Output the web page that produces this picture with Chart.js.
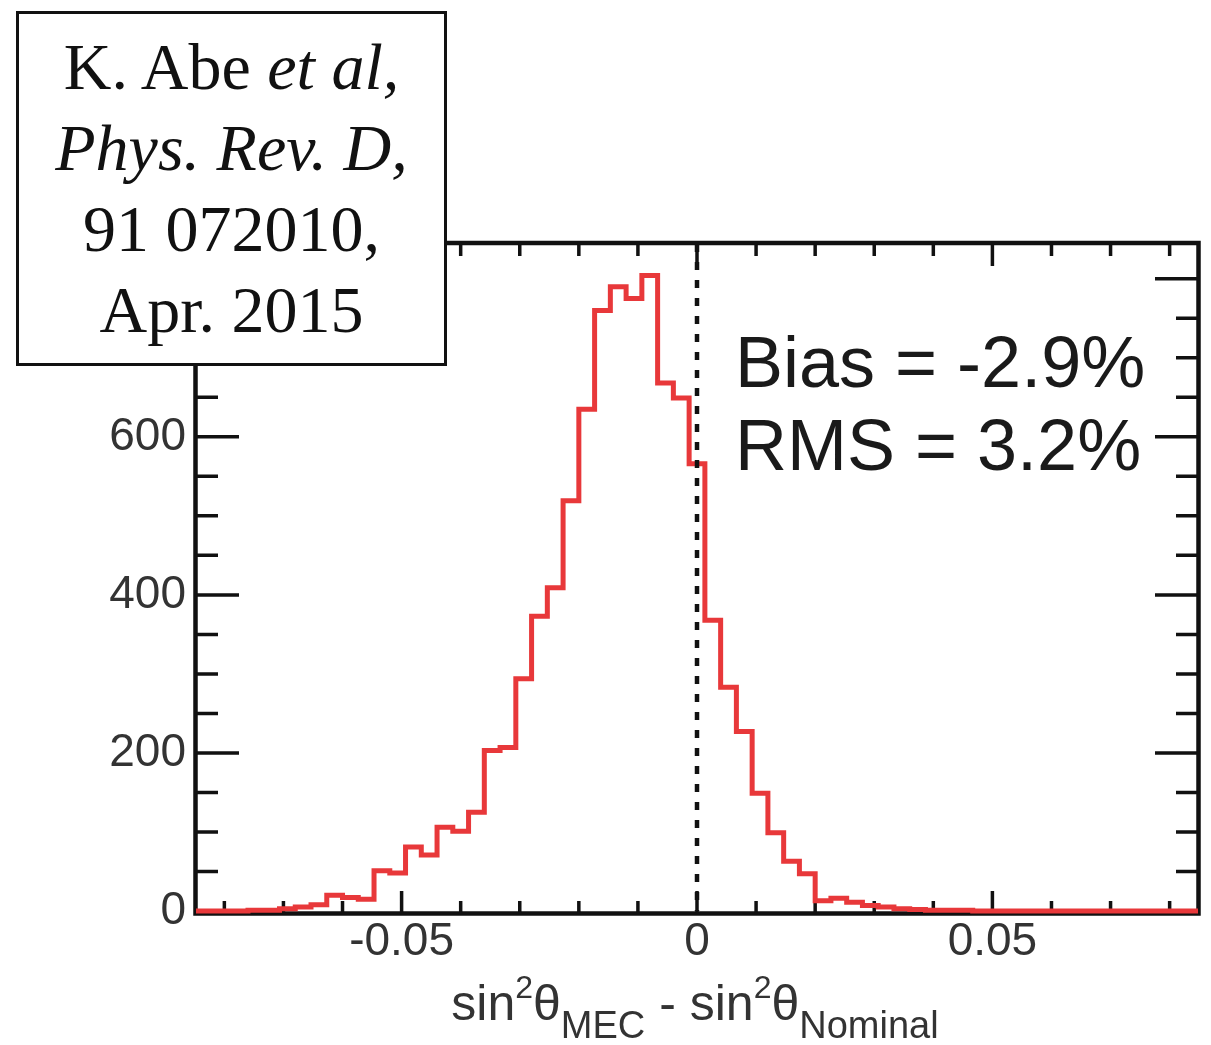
<!DOCTYPE html>
<html>
<head>
<meta charset="utf-8">
<script src="https://cdn.jsdelivr.net/npm/chart.js@4.4.1/dist/chart.umd.min.js"></script>
<style>
  html, body { margin: 0; padding: 0; background: #fff; }
  #wrap { position: relative; width: 1211px; height: 1045px; }
  #plot { position: absolute; left: 0; top: 0; }
  #cite {
    position: absolute; left: 16px; top: 11px; width: 431px; height: 355px;
    box-sizing: border-box; border: 3px solid #111; background: #fff;
    font-family: "Liberation Serif", "Times New Roman", serif;
    font-size: 66px; line-height: 81px; text-align: center; color: #111;
    padding-top: 12px; white-space: nowrap;
  }
</style>
</head>
<body>
<div id="wrap">
  <canvas id="plot" width="1211" height="1045"></canvas>
  <div id="cite">K. Abe <i>et al,</i><br><i>Phys. Rev. D,</i><br>91 072010,<br>Apr. 2015</div>
</div>
<script>
// histogram binning (bins centred on 0)
const binLow = -0.0866667;
const binWidth = 0.0026667;
const binCounts = [
  0, 0, 0, 0, 1, 1, 3, 5, 8, 20, 17, 15, 51, 48, 81, 71,
  106, 101, 125, 203, 207, 294, 373, 409, 519, 635, 760, 790, 775, 804, 668, 649,
  566,
  368, 283, 227, 149, 99, 63, 47, 13, 16, 11, 7, 5, 3, 2, 1,
  1, 1, 0, 0, 0, 0, 0, 0, 0, 0, 0, 0, 0, 0, 0, 0, 0
];

const xRange = [-0.0848, 0.0848];
const yRange = [0, 844];
const xTickValues = [-0.05, 0, 0.05];
const xTickText = ["-0.05", "0", "0.05"];
const yTickValues = [0, 200, 400, 600, 800];
const xMinorStep = 0.01;
const yMinorStep = 50;
const biasLineX = 0;
const statLines = ["Bias = -2.9%", "RMS = 3.2%"];

const sans = '"Liberation Sans", Arial, Helvetica, sans-serif';
const red = "#e8383a";

const points = binCounts.map((c, i) => ({ x: binLow + i * binWidth, y: c }));
points.push({ x: binLow + binCounts.length * binWidth, y: binCounts[binCounts.length - 1] });

const framePlugin = {
  id: "frame",
  beforeDatasetsDraw(chart) {
    const { ctx, chartArea: a, scales: { x, y } } = chart;
    ctx.save();
    ctx.strokeStyle = "#111";
    ctx.lineWidth = 4.5;
    ctx.strokeRect(a.left - 0.5, a.top - 1, a.right - a.left + 1, a.bottom - a.top + 3.5);

    ctx.lineWidth = 3.5;
    ctx.beginPath();
    for (let v = Math.ceil(xRange[0] / xMinorStep) * xMinorStep; v <= xRange[1]; v += xMinorStep) {
      const px = x.getPixelForValue(v);
      const major = Math.abs(v / 0.05 - Math.round(v / 0.05)) < 1e-6;
      const len = major ? 22 : 12;
      ctx.moveTo(px, a.bottom + 2);
      ctx.lineTo(px, a.bottom + 2 - len);
      ctx.moveTo(px, a.top);
      ctx.lineTo(px, a.top + len);
    }
    for (let v = yRange[0]; v <= yRange[1]; v += yMinorStep) {
      const py = y.getPixelForValue(v);
      const len = v % 200 === 0 ? 43 : 22;
      ctx.moveTo(a.left, py);
      ctx.lineTo(a.left + len, py);
      ctx.moveTo(a.right, py);
      ctx.lineTo(a.right - len, py);
    }
    ctx.stroke();
    ctx.restore();
  },
  afterDatasetsDraw(chart) {
    const { ctx, chartArea: a, scales: { x } } = chart;
    ctx.save();
    // dotted line at zero bias
    const px = x.getPixelForValue(biasLineX);
    ctx.strokeStyle = "#111";
    ctx.lineWidth = 4.5;
    ctx.setLineDash([8, 10]);
    ctx.beginPath();
    ctx.moveTo(px, a.top);
    ctx.lineTo(px, a.bottom);
    ctx.stroke();
    ctx.setLineDash([]);

    // stats text
    ctx.fillStyle = "#1a1a1a";
    ctx.font = "72px " + sans;
    ctx.textBaseline = "alphabetic";
    ctx.textAlign = "left";
    ctx.fillText(statLines[0], 735, 387);
    ctx.fillText(statLines[1], 735, 470);

    // axis title with super/subscripts
    const parts = [
      ["sin", 50, 0], ["2", 32, -22], ["θ", 50, 0], ["MEC", 38, 18],
      [" - ", 50, 0],
      ["sin", 50, 0], ["2", 32, -22], ["θ", 50, 0], ["Nominal", 38, 18]
    ];
    let total = 0;
    for (const p of parts) {
      ctx.font = p[1] + "px " + sans;
      total += ctx.measureText(p[0]).width;
    }
    let cx = 695 - total / 2;
    ctx.fillStyle = "#333";
    for (const p of parts) {
      ctx.font = p[1] + "px " + sans;
      ctx.fillText(p[0], cx, 1020 + p[2]);
      cx += ctx.measureText(p[0]).width;
    }
    ctx.restore();
  }
};

new Chart(document.getElementById("plot"), {
  type: "line",
  data: {
    datasets: [{
      data: points,
      stepped: true,
      borderColor: red,
      borderWidth: 5,
      pointRadius: 0,
      fill: false,
      clip: { left: 0, right: 0, top: 6, bottom: 6 }
    }]
  },
  options: {
    responsive: false,
    animation: false,
    devicePixelRatio: 1,
    layout: { padding: { top: 244, right: 13, left: 0, bottom: 0 } },
    plugins: { legend: { display: false }, tooltip: { enabled: false } },
    scales: {
      x: {
        type: "linear",
        min: xRange[0],
        max: xRange[1],
        grid: { display: false, drawTicks: false },
        border: { display: false },
        afterBuildTicks: (s) => { s.ticks = xTickValues.map((v) => ({ value: v })); },
        afterFit: (s) => { s.height = 134; },
        ticks: {
          autoSkip: false,
          maxRotation: 0,
          padding: 4,
          color: "#333",
          font: { family: sans, size: 46 },
          callback: (v, i) => xTickText[i]
        }
      },
      y: {
        type: "linear",
        min: yRange[0],
        max: yRange[1],
        grid: { display: false, drawTicks: false },
        border: { display: false },
        afterBuildTicks: (s) => { s.ticks = yTickValues.map((v) => ({ value: v })); },
        afterFit: (s) => { s.width = 196; },
        ticks: {
          padding: 10,
          color: "#333",
          font: { family: sans, size: 46 },
          callback: (v) => String(v)
        }
      }
    }
  },
  plugins: [framePlugin]
});
</script>
</body>
</html>
